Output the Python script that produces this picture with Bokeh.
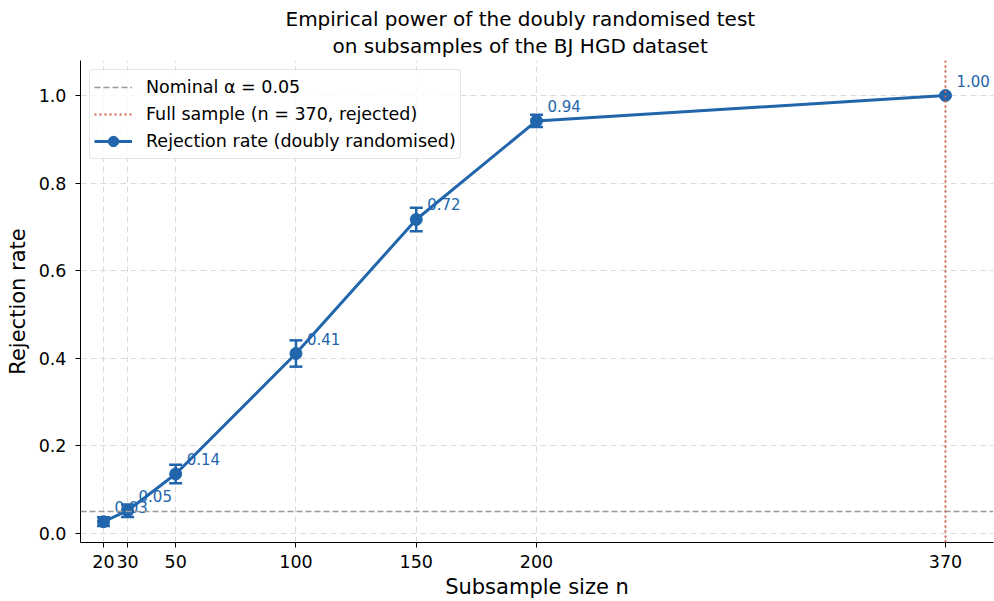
import math
from bokeh.plotting import figure
from bokeh.models import (ColumnDataSource, Span, Legend, LegendItem, FixedTicker,
                          Title, Range1d, PrintfTickFormatter)
from bokeh.core.properties import value
from bokeh.embed import file_html
from bokeh.resources import INLINE

# ---- data ----
n_sizes = [20, 30, 50, 100, 150, 200, 370]
rej_rate = [0.027, 0.052, 0.136, 0.411, 0.717, 0.942, 1.000]
rej_err = [0.010, 0.014, 0.021, 0.030, 0.027, 0.014, 0.0]
rate_labels = ["0.03", "0.05", "0.14", "0.41", "0.72", "0.94", "1.00"]
x_ticks = [20, 30, 50, 100, 150, 200, 370]
y_ticks = [0.0, 0.2, 0.4, 0.6, 0.8, 1.0]
alpha_level = 0.05
full_n = 370

FONT = "DejaVu Sans"
BLUE = "#2166ac"
RED = "#d6604d"
GRAY = "#999999"

p = figure(width=994, height=601, output_backend="svg", toolbar_location=None,
           title=None,
           x_range=Range1d(10.44, 389.96), y_range=Range1d(-0.0205, 1.080),
           min_border_left=80, min_border_right=1, min_border_bottom=59,
           min_border_top=0)
p.outline_line_color = None
p.background_fill_color = "white"

# small spacer between plot and titles, then the two title lines
spacer = Title(text=" ", align="left", text_font_size="1px", standoff=2)
p.add_layout(spacer, "above")
t2 = Title(text="on subsamples of the BJ HGD dataset", align="left", offset=252,
           text_font_size="20px", text_font_style="normal", text_font=FONT,
           text_color="black", standoff=-5)
p.add_layout(t2, "above")
t1 = Title(text="Empirical power of the doubly randomised test", align="left", offset=205,
           text_font_size="20px", text_font_style="normal", text_font=FONT,
           text_color="black", standoff=8)
p.add_layout(t1, "above")

# axes
p.xaxis.ticker = FixedTicker(ticks=x_ticks)
p.yaxis.ticker = FixedTicker(ticks=y_ticks)
p.yaxis.formatter = PrintfTickFormatter(format="%.1f")
p.axis.major_tick_out = 5
p.axis.major_tick_in = 0
p.axis.minor_tick_out = 0
p.axis.minor_tick_in = 0
p.axis.axis_line_color = "black"
p.axis.major_tick_line_color = "black"
p.axis.major_label_text_font_size = "17.5px"
p.axis.major_label_text_font = FONT
p.axis.major_label_text_color = "black"
p.axis.axis_label_text_font_size = "21px"
p.axis.axis_label_text_font_style = "normal"
p.axis.axis_label_text_font = FONT
p.axis.axis_label_text_color = "black"
p.xaxis.major_label_standoff = 7
p.xaxis.axis_label_standoff = 4
p.yaxis.major_label_standoff = 9
p.yaxis.axis_label_standoff = 6
p.xaxis.axis_label = "Subsample size n"
p.yaxis.axis_label = "Rejection rate"

# grid
p.grid.grid_line_color = "#cccccc"
p.grid.grid_line_alpha = 0.7
p.grid.grid_line_dash = "6 4"
p.grid.grid_line_width = 1

# reference lines
p.add_layout(Span(location=alpha_level, dimension="width", line_color=GRAY,
                  line_dash="6 3", line_width=1.5))
p.add_layout(Span(location=full_n, dimension="height", line_color=RED,
                  line_dash="2 3", line_width=2))

# main series
src = ColumnDataSource(dict(x=n_sizes, y=rej_rate, lab=rate_labels))
line_r = p.line("x", "y", source=src, line_color=BLUE, line_width=3)

ex = [x for x, e in zip(n_sizes, rej_err) if e > 0]
ylo = [y - e for y, e in zip(rej_rate, rej_err) if e > 0]
yhi = [y + e for y, e in zip(rej_rate, rej_err) if e > 0]
esrc = ColumnDataSource(dict(x=ex, ylo=ylo, yhi=yhi))
p.segment(x0="x", y0="ylo", x1="x", y1="yhi", source=esrc, line_color=BLUE, line_width=2.5)
p.scatter("x", "ylo", source=esrc, marker="dash", size=13, line_color=BLUE, line_width=2.5)
p.scatter("x", "yhi", source=esrc, marker="dash", size=13, line_color=BLUE, line_width=2.5)

circle_r = p.scatter("x", "y", source=src, size=12, fill_color=BLUE, line_color=BLUE)

p.text("x", "y", text="lab", source=src, x_offset=11, y_offset=-15,
       text_baseline="middle", text_align="left", text_font_size="15px",
       text_color=BLUE, text_font=value(FONT))

# legend-only renderers (no visible data)
blank = ColumnDataSource(dict(x=[float("nan")], y=[float("nan")]))
nom_r = p.line("x", "y", source=blank, line_color=GRAY, line_dash="6 3", line_width=1.5)
full_r = p.line("x", "y", source=blank, line_color=RED, line_dash="2 3", line_width=2)
vbar_r = p.scatter("x", "y", source=blank, marker="dash", angle=math.pi / 2,
                   line_color=BLUE, line_width=2.5)

legend = Legend(items=[
    LegendItem(label="Nominal α = 0.05", renderers=[nom_r]),
    LegendItem(label="Full sample (n = 370, rejected)", renderers=[full_r]),
    LegendItem(label="Rejection rate (doubly randomised)", renderers=[line_r, vbar_r, circle_r]),
], location="top_left")
legend.glyph_width = 38
legend.glyph_height = 26
legend.label_height = 26
legend.spacing = 1
legend.padding = 4
legend.margin = 9
legend.label_standoff = 14
legend.label_text_font_size = "17.5px"
legend.label_text_font = FONT
legend.label_text_color = "black"
legend.border_line_color = "#cccccc"
legend.border_line_width = 1
legend.border_radius = 4
legend.background_fill_alpha = 0.8
p.add_layout(legend)

open("out.html", "w").write(file_html(p, INLINE))
